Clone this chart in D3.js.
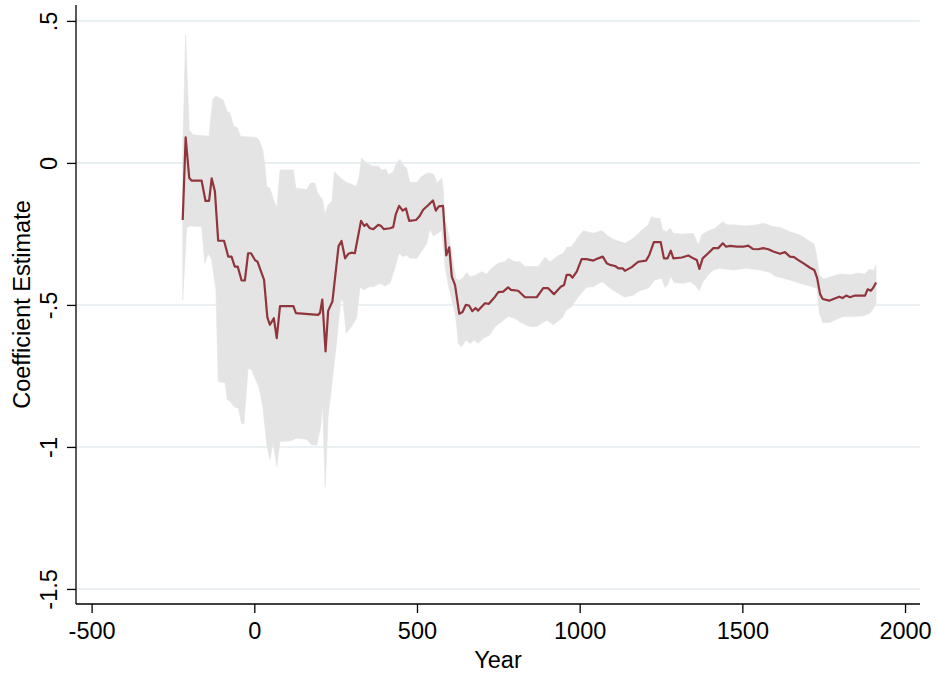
<!DOCTYPE html>
<html>
<head>
<meta charset="utf-8">
<script src="https://cdn.jsdelivr.net/npm/d3@7"></script>
<style>
  html, body { margin: 0; padding: 0; background: #ffffff; }
  svg { display: block; }
  text { font-family: "Liberation Sans", Arial, sans-serif; fill: #000; }
</style>
</head>
<body>
<div id="chart"></div>
<script>
// Rolling coefficient estimate by year, with its confidence band
const lineYear = [-220,-211,-200,-193,-162,-150,-139,-131,-121,-111,-93,-80,-70,-60,-51,-39,-29,-19,-10,2,10,30,40,48,60,69,79,120,128,196,202,209,219,227,240,252,259,268,279,289,299,309,328,338,345,355,366,381,389,398,417,427,435,445,456,466,476,497,507,519,535,549,558,567,580,590,599,607,617,630,640,650,660,670,680,688,709,721,740,750,765,780,789,811,832,868,888,903,921,942,952,960,970,978,991,1006,1021,1042,1057,1071,1083,1093,1109,1119,1132,1139,1160,1180,1204,1214,1228,1249,1259,1270,1280,1288,1314,1334,1349,1360,1368,1378,1395,1411,1426,1440,1450,1462,1483,1503,1518,1532,1549,1564,1580,1595,1616,1631,1646,1659,1672,1687,1708,1721,1730,1739,1747,1767,1780,1798,1808,1819,1831,1846,1877,1885,1895,1903,1911];
const coefEstimate = [-0.201,0.090,-0.053,-0.062,-0.062,-0.134,-0.134,-0.054,-0.101,-0.274,-0.274,-0.330,-0.330,-0.365,-0.365,-0.414,-0.414,-0.318,-0.318,-0.342,-0.348,-0.412,-0.543,-0.570,-0.547,-0.617,-0.504,-0.504,-0.529,-0.535,-0.528,-0.481,-0.664,-0.521,-0.488,-0.365,-0.293,-0.275,-0.336,-0.320,-0.316,-0.318,-0.204,-0.222,-0.215,-0.230,-0.233,-0.218,-0.221,-0.233,-0.230,-0.226,-0.180,-0.151,-0.168,-0.160,-0.204,-0.201,-0.189,-0.165,-0.148,-0.132,-0.168,-0.153,-0.151,-0.326,-0.297,-0.400,-0.430,-0.531,-0.525,-0.500,-0.502,-0.522,-0.511,-0.520,-0.494,-0.496,-0.471,-0.455,-0.453,-0.438,-0.447,-0.450,-0.473,-0.473,-0.441,-0.441,-0.462,-0.436,-0.430,-0.394,-0.394,-0.404,-0.383,-0.339,-0.339,-0.344,-0.336,-0.330,-0.353,-0.359,-0.363,-0.371,-0.371,-0.380,-0.367,-0.348,-0.344,-0.324,-0.279,-0.279,-0.336,-0.336,-0.309,-0.336,-0.333,-0.326,-0.336,-0.342,-0.373,-0.336,-0.318,-0.300,-0.300,-0.283,-0.295,-0.292,-0.295,-0.295,-0.291,-0.303,-0.304,-0.300,-0.304,-0.312,-0.320,-0.314,-0.330,-0.332,-0.342,-0.353,-0.369,-0.377,-0.406,-0.462,-0.479,-0.485,-0.479,-0.471,-0.476,-0.467,-0.473,-0.467,-0.467,-0.445,-0.450,-0.438,-0.421];

const upperYear = [-220,-211,-200,-188,-149,-139,-128,-118,-96,-83,-75,-63,-53,-42,5,15,26,33,38,48,58,69,79,120,128,161,173,186,194,203,210,217,227,239,246,255,265,284,299,314,322,330,340,355,371,381,391,405,412,427,437,448,458,468,478,499,514,530,543,552,562,576,581,586,589,599,610,620,630,640,653,663,678,699,714,729,750,770,780,801,816,832,873,893,909,934,950,960,975,996,1011,1042,1068,1083,1103,1139,1165,1195,1211,1221,1231,1247,1255,1267,1278,1288,1314,1349,1365,1375,1390,1416,1431,1441,1452,1472,1513,1544,1564,1595,1616,1646,1677,1708,1720,1729,1737,1749,1769,1800,1831,1856,1877,1890,1903,1911];
const upperBound = [0.046,0.451,0.116,0.099,0.095,0.095,0.222,0.236,0.222,0.181,0.177,0.128,0.126,0.093,0.090,0.081,0.046,-0.013,-0.083,-0.089,-0.124,-0.160,-0.025,-0.025,-0.089,-0.094,-0.071,-0.071,-0.102,-0.120,-0.130,-0.180,-0.148,-0.134,-0.031,-0.042,-0.053,-0.069,-0.075,-0.083,-0.048,0.017,0.005,-0.007,-0.013,-0.011,-0.025,-0.022,-0.042,-0.031,-0.001,0.013,-0.007,-0.019,-0.069,-0.069,-0.048,-0.036,-0.036,-0.042,-0.071,-0.054,-0.095,-0.224,-0.208,-0.264,-0.342,-0.408,-0.414,-0.406,-0.386,-0.401,-0.396,-0.383,-0.391,-0.371,-0.353,-0.348,-0.336,-0.348,-0.348,-0.365,-0.365,-0.332,-0.348,-0.327,-0.318,-0.297,-0.295,-0.260,-0.239,-0.248,-0.238,-0.254,-0.269,-0.283,-0.265,-0.233,-0.218,-0.189,-0.195,-0.195,-0.236,-0.242,-0.230,-0.248,-0.251,-0.248,-0.289,-0.254,-0.242,-0.230,-0.215,-0.207,-0.218,-0.218,-0.222,-0.218,-0.212,-0.224,-0.227,-0.242,-0.254,-0.277,-0.285,-0.330,-0.394,-0.409,-0.402,-0.391,-0.394,-0.388,-0.391,-0.374,-0.379,-0.359];

const lowerYear = [-220,-208,-198,-162,-152,-142,-131,-118,-111,-90,-83,-73,-63,-49,-39,-32,-19,-8,5,15,26,38,48,58,69,79,115,128,161,176,192,204,210,218,227,241,252,266,273,282,299,314,325,335,355,366,386,401,417,432,445,458,468,478,499,514,530,540,550,561,576,586,596,607,617,622,627,637,651,663,676,688,704,724,740,760,780,801,822,847,868,899,919,945,960,975,996,1021,1042,1068,1088,1109,1139,1165,1185,1211,1231,1252,1262,1270,1280,1290,1318,1339,1354,1368,1378,1395,1411,1431,1472,1513,1554,1585,1600,1616,1646,1677,1708,1729,1737,1747,1769,1790,1810,1841,1872,1892,1903,1911];
const lowerBound = [-0.482,-0.230,-0.222,-0.224,-0.353,-0.318,-0.342,-0.447,-0.770,-0.774,-0.834,-0.840,-0.858,-0.864,-0.917,-0.919,-0.723,-0.729,-0.764,-0.793,-0.858,-0.987,-1.046,-0.981,-1.069,-0.981,-0.978,-0.969,-0.973,-0.993,-0.993,-0.928,-0.846,-1.140,-0.893,-0.752,-0.641,-0.482,-0.488,-0.600,-0.576,-0.547,-0.436,-0.447,-0.436,-0.436,-0.424,-0.433,-0.424,-0.371,-0.318,-0.330,-0.324,-0.336,-0.336,-0.312,-0.283,-0.232,-0.257,-0.250,-0.236,-0.359,-0.430,-0.482,-0.529,-0.570,-0.637,-0.647,-0.623,-0.636,-0.624,-0.635,-0.617,-0.606,-0.576,-0.559,-0.541,-0.547,-0.564,-0.576,-0.576,-0.553,-0.570,-0.547,-0.518,-0.506,-0.471,-0.438,-0.436,-0.418,-0.436,-0.453,-0.473,-0.465,-0.450,-0.441,-0.412,-0.406,-0.438,-0.430,-0.400,-0.421,-0.424,-0.418,-0.430,-0.450,-0.421,-0.394,-0.377,-0.371,-0.377,-0.371,-0.377,-0.386,-0.398,-0.403,-0.412,-0.424,-0.433,-0.441,-0.529,-0.562,-0.562,-0.550,-0.541,-0.541,-0.539,-0.529,-0.512,-0.494];

const xTicks = [-500, 0, 500, 1000, 1500, 2000];
const xTickLabels = ["-500", "0", "500", "1000", "1500", "2000"];
const yTicks = [0.5, 0, -0.5, -1, -1.5];
const yTickLabels = [".5", "0", "-.5", "-1", "-1.5"];

const W = 938, H = 678;
const plot = { left: 76, right: 920, top: 5, bottom: 604 };
const FONT = "Liberation Sans, Arial, sans-serif";

const svg = d3.select("#chart").append("svg")
  .attr("width", W).attr("height", H);

const x = d3.scaleLinear().domain([-548, 2046]).range([plot.left, plot.right]);
const y = d3.scaleLinear().domain([-1.553, 0.556]).range([plot.bottom, plot.top]);

// horizontal grid lines at the y ticks
svg.append("g").selectAll("line").data(yTicks).join("line")
  .attr("x1", plot.left).attr("x2", plot.right)
  .attr("y1", d => y(d)).attr("y2", d => y(d))
  .attr("stroke", "#e4edef").attr("stroke-width", 1.6);

// confidence band: upper edge forward, lower edge back
const upperPts = upperYear.map((yr, i) => [yr, upperBound[i]]);
const lowerPts = lowerYear.map((yr, i) => [yr, lowerBound[i]]).reverse();
const pathGen = d3.line().x(d => x(d[0])).y(d => y(d[1]));
svg.append("path")
  .attr("d", pathGen(upperPts.concat(lowerPts)) + "Z")
  .attr("fill", "#e4e4e4")
  .attr("stroke", "#e4e4e4").attr("stroke-width", 0.6);

// point estimate
const estPts = lineYear.map((yr, i) => [yr, coefEstimate[i]]);
svg.append("path")
  .attr("d", pathGen(estPts))
  .attr("fill", "none")
  .attr("stroke", "rgb(144,53,59)")
  .attr("stroke-width", 2.2)
  .attr("stroke-linejoin", "round");

// x axis
const xAxis = d3.axisBottom(x).tickValues(xTicks).tickSize(9).tickPadding(9).tickSizeOuter(0)
  .tickFormat((d, i) => xTickLabels[i]);
const gx = svg.append("g").attr("transform", `translate(0,${plot.bottom})`).call(xAxis);
gx.select(".domain").attr("d", `M${plot.left},0H${plot.right}`).attr("stroke", "#000").attr("stroke-width", 1.3);
gx.selectAll(".tick line").attr("stroke", "#000").attr("stroke-width", 1.3);
gx.selectAll(".tick text").attr("font-size", "23.5px").attr("font-family", FONT).attr("dy", "0.71em");

// y axis with rotated labels
const yAxis = d3.axisLeft(y).tickValues(yTicks).tickSize(9).tickSizeOuter(0)
  .tickFormat((d, i) => yTickLabels[i]);
const gy = svg.append("g").attr("transform", `translate(${plot.left},0)`).call(yAxis);
gy.select(".domain").attr("d", `M0,${plot.top}V${plot.bottom}`).attr("stroke", "#000").attr("stroke-width", 1.3);
gy.selectAll(".tick line").attr("stroke", "#000").attr("stroke-width", 1.3);
gy.selectAll(".tick text")
  .attr("font-size", "23.5px").attr("font-family", FONT)
  .attr("x", null).attr("dy", null)
  .attr("text-anchor", "middle")
  .attr("transform", "translate(-19,0) rotate(-90)");

// axis titles
svg.append("text")
  .attr("x", (plot.left + plot.right) / 2).attr("y", 668)
  .attr("text-anchor", "middle").attr("font-size", "23.5px")
  .text("Year");
svg.append("text")
  .attr("transform", `translate(30,${(plot.top + plot.bottom) / 2}) rotate(-90)`)
  .attr("text-anchor", "middle").attr("font-size", "23.5px")
  .text("Coefficient Estimate");
</script>
</body>
</html>
